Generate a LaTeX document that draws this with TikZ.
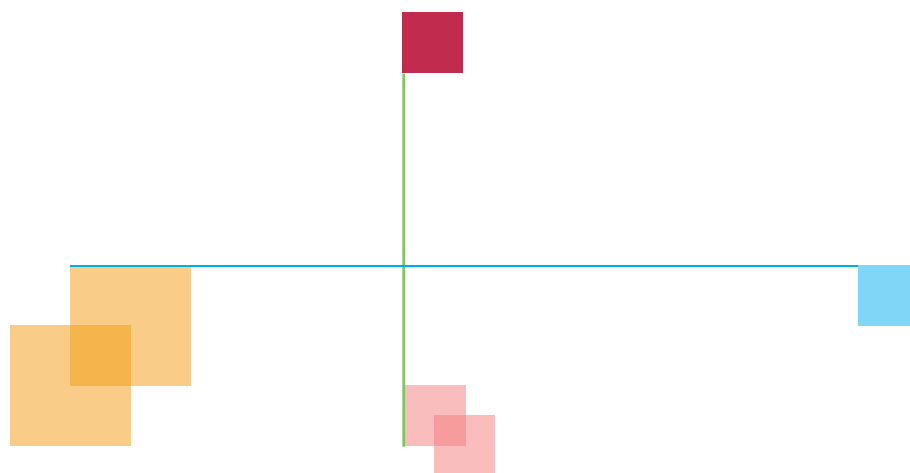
\documentclass[tikz,border=0pt]{standalone}
\usepackage{xcolor}
\definecolor{qred}{RGB}{193,43,78}
\definecolor{qgreen}{RGB}{126,198,94}
\definecolor{qcyan}{RGB}{0,174,239}
\definecolor{qorange}{RGB}{243,156,18}
\definecolor{qpink}{RGB}{244,124,124}
\usetikzlibrary{positioning}

\begin{document}
\begin{tikzpicture}[x=0.02cm, y=-0.02cm,
  sbox/.style={rectangle, draw=none, inner sep=0pt, anchor=north west,
               minimum size=1.22cm},
  obox/.style={sbox, fill=qorange, fill opacity=0.5, minimum size=2.42cm},
  pbox/.style={sbox, fill=qpink, fill opacity=0.5},
  vline/.style={draw=qgreen, line width=1.5pt},
  hline/.style={draw=qcyan, line width=1.3pt}
]
\clip (0,0) rectangle (910,473);

% Squares
\node[sbox, fill=qred]                       (top) at (402,12)  {};
\node[obox]                                  (or1) at (70,265)  {};
\node[obox]                                  (or2) at (10,325)  {};
\node[pbox]                                  (pk1) at (405,385) {};
\node[pbox]                                  (pk2) at (434,415) {};
\node[sbox, fill=qcyan, fill opacity=0.5]    (cy)  at (858,265) {};

% Lines
\draw[vline] ([xshift=0.036cm]top.south west) -- ([xshift=-0.024cm]pk1.south west);
\draw[hline] ([yshift=-0.02cm]or1.north west) -- ([yshift=-0.02cm]cy.north west);
\end{tikzpicture}
\end{document}
